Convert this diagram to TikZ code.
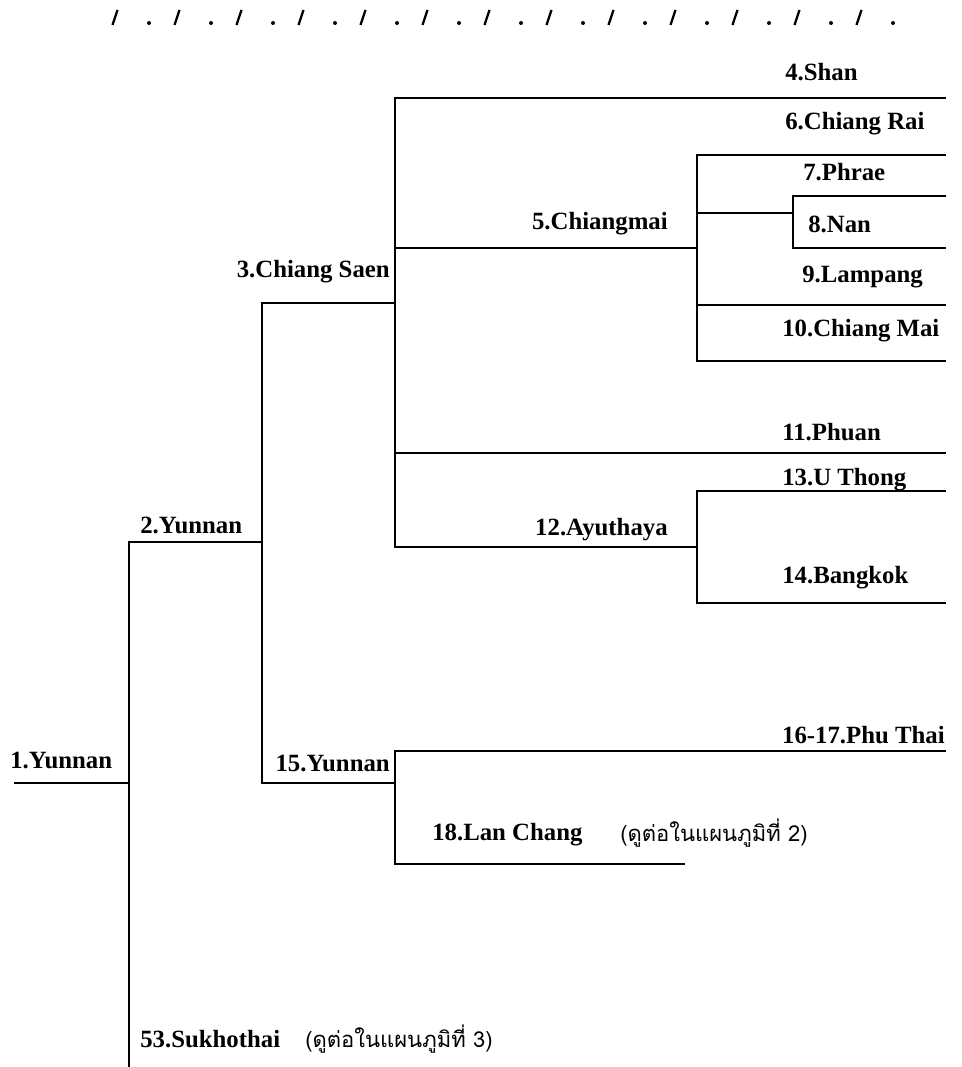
\documentclass[tikz,border=0pt]{standalone}
\usepackage{fontspec}
\newfontfamily\lbl{Liberation Serif}
\newfontfamily\thaifont[Script=Thai]{Loma}
\begin{document}
\begin{tikzpicture}[x=0.75pt,y=-0.75pt,
  br/.style={line width=1.3pt,line cap=rect},
  thinbr/.style={line width=0.8pt,line cap=rect},
  lab/.style={inner sep=0pt,font=\lbl\bfseries\fontsize{18.6pt}{21pt}\selectfont},
  thlab/.style={inner sep=0pt,font=\thaifont\fontsize{16.5pt}{20pt}\selectfont}]
\useasboundingbox (0,0) rectangle (962,1067);
% decorative dash row
\foreach \k in {0,...,12}{
  \draw[line width=1.7pt] ({115+62*\k-2.5},25) -- ({115+62*\k+2.5},10);
  \fill ({149+62*\k},23) circle (2);
}
% junction coordinates
\coordinate (r0) at (15,783);
\coordinate (a1) at (129,783);
\coordinate (a2) at (129,542);
\coordinate (aB) at (129,1067);
\coordinate (b1) at (262,542);
\coordinate (b2) at (262,303);
\coordinate (b3) at (262,783);
\coordinate (c1) at (395,303);
\coordinate (c2) at (395,98);
\coordinate (c3) at (395,547);
\coordinate (c4) at (395,248);
\coordinate (c5) at (395,453);
\coordinate (e1) at (395,783);
\coordinate (e2) at (395,751);
\coordinate (e3) at (395,864);
\coordinate (d1) at (697,248);
\coordinate (d2) at (697,155);
\coordinate (d3) at (697,361);
\coordinate (d4) at (697,213);
\coordinate (d5) at (697,305);
\coordinate (f1) at (793,213);
\coordinate (f2) at (793,196);
\coordinate (f3) at (793,248);
\coordinate (g1) at (697,547);
\coordinate (g2) at (697,491);
\coordinate (g3) at (697,603);
\coordinate (t4) at (945,98);
\coordinate (t7) at (945,155);
\coordinate (t8a) at (945,196);
\coordinate (t8b) at (945,248);
\coordinate (t9) at (945,305);
\coordinate (t10) at (945,361);
\coordinate (t11) at (945,453);
\coordinate (t13) at (945,491);
\coordinate (t14) at (945,603);
\coordinate (t16) at (945,751);
\coordinate (t18) at (684,864);
% tree
\draw[br] (r0) -- (a1);
\draw[br] (a2) -- (aB);
\draw[br] (a2) -- (b1);
\draw[br] (b2) -- (b3);
\draw[br] (b2) -- (c1);
\draw[br] (b3) -- (e1);
\draw[thinbr] (c2) -- (c3);
\draw[br] (c2) -- (t4);
\draw[br] (c4) -- (d1);
\draw[thinbr] (c5) -- (t11);
\draw[br] (c3) -- (g1);
\draw[br] (d2) -- (d3);
\draw[br] (d2) -- (t7);
\draw[br] (d4) -- (f1);
\draw[thinbr] (f2) -- (f3);
\draw[br] (f2) -- (t8a);
\draw[thinbr] (f3) -- (t8b);
\draw[br] (d5) -- (t9);
\draw[br] (d3) -- (t10);
\draw[thinbr] (g2) -- (g3);
\draw[thinbr] (g2) -- (t13);
\draw[br] (g3) -- (t14);
\draw[thinbr] (e2) -- (e3);
\draw[br] (e2) -- (t16);
\draw[thinbr] (e3) -- (t18);
% labels
\node[lab,anchor=west] (n1) at (10,760) {1.Yunnan};
\node[lab,anchor=west] (n2) at (140,525) {2.Yunnan};
\node[lab,anchor=east] (n3) at (390,272) {3.Chiang Saen};
\node[lab,anchor=west] (n4) at (785,72) {4.Shan};
\node[lab,anchor=east] (n5) at (668,224) {5.Chiangmai};
\node[lab,anchor=west] (n6) at (785,124) {6.Chiang Rai};
\node[lab,anchor=west] (n7) at (803,172) {7.Phrae};
\node[lab,anchor=west] (n8) at (808,224) {8.Nan};
\node[lab,anchor=west] (n9) at (802,277) {9.Lampang};
\node[lab,anchor=west] (n10) at (782,331) {10.Chiang Mai};
\node[lab,anchor=west] (n11) at (782,432) {11.Phuan};
\node[lab,anchor=east] (n12) at (668,530) {12.Ayuthaya};
\node[lab,anchor=west] (n13) at (782,480) {13.U Thong};
\node[lab,anchor=west] (n14) at (782,578) {14.Bangkok};
\node[lab,anchor=east] (n15) at (390,763) {15.Yunnan};
\node[lab,anchor=east] (n16) at (945,735) {16-17.Phu Thai};
\node[lab,anchor=west] (n18) at (432,835) {18.Lan Chang};
\node[thlab,anchor=west] (th2) at (620,833) {(ดูต่อในแผนภูมิที่ 2)};
\node[lab,anchor=west] (n53) at (140,1039) {53.Sukhothai};
\node[thlab,anchor=west] (th3) at (305,1039) {(ดูต่อในแผนภูมิที่ 3)};
\end{tikzpicture}
\end{document}
